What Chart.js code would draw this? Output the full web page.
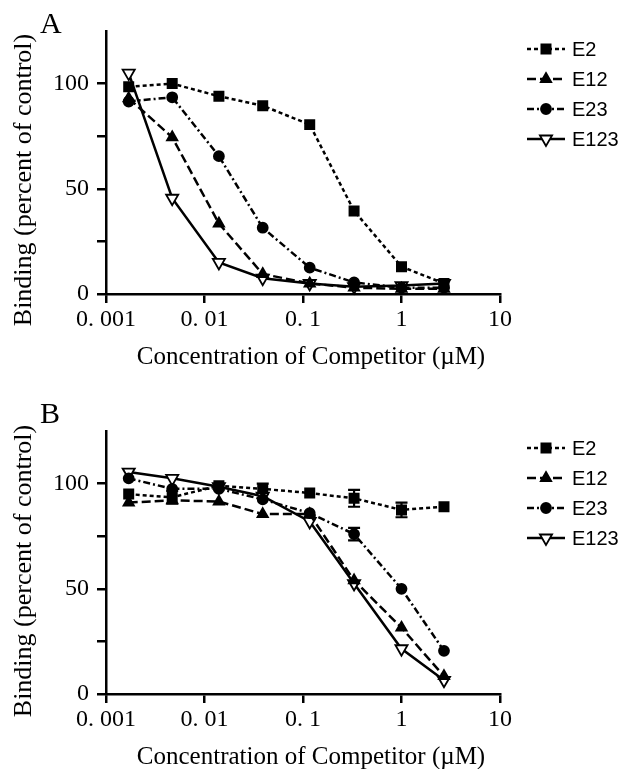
<!DOCTYPE html>
<html>
<head>
<meta charset="utf-8">
<script src="https://cdn.jsdelivr.net/npm/chart.js@4"></script>
<style>
  body { margin: 0; background: #fff; }
  canvas { position: absolute; left: 0; }
</style>
</head>
<body>
<canvas id="chart-a" width="624" height="380" style="top:0"></canvas>
<canvas id="chart-b" width="624" height="389" style="top:380px"></canvas>
<script>
const conc = [0.0017, 0.0047, 0.014, 0.039, 0.117, 0.33, 1, 2.7];
const seriesNames = ['E2', 'E12', 'E23', 'E123'];
const xTicks = [0.001, 0.01, 0.1, 1, 10];
const xTickLabels = ['0. 001', '0. 01', '0. 1', '1', '10'];
const yTicks = [0, 25, 50, 75, 100];
const yTickLabels = ['0', '', '50', '', '100'];
const xTitle = 'Concentration of Competitor (\u00b5M)';
const yTitle = 'Binding (percent of control)';

// panel A
const aE2 = [98.5, 100, 94, 89.5, 80.5, 39.5, 13, 5];
const aE12 = [93, 74.5, 33.5, 9.5, 5, 3, 2.5, 2.5];
const aE23 = [91.5, 93.5, 65.5, 31.5, 12.5, 5.5, 3, 3];
const aE123 = [105, 45.5, 15, 7.5, 5, 3.5, 4, 5];

// panel B
const bE2 = [95, 93.5, 99, 97.5, 95.5, 93, 87.5, 89];
const bE12 = [91, 92, 91.5, 85.5, 85.5, 54, 31.5, 8.5];
const bE23 = [102.5, 97.5, 97.5, 92.5, 86, 76, 50, 20.5];
const bE123 = [105.5, 102.5, 98.5, 94, 82, 52.5, 21.5, 6.5];
const bE2Err = [0, 3, 0, 2.5, 0, 4, 3.5, 0];
const bE23Err = [0, 0, 0, 0, 0, 3, 0, 0];

const styles = [
  { dash: [4, 3], point: 'rect', radius: 6.5, rot: 0, fill: '#000' },
  { dash: [9, 4], point: 'triangle', radius: 6, rot: 0, fill: '#000' },
  { dash: [7, 3, 2, 3], point: 'circle', radius: 5, rot: 0, fill: '#000' },
  { dash: [], point: 'triangle', radius: 7, rot: 180, fill: '#fff' }
];

const serif = 'Liberation Serif';

function makeDatasets(values, errs) {
  return values.map((vals, i) => ({
    label: seriesNames[i],
    data: conc.map((c, j) => ({ x: c, y: vals[j] })),
    err: errs[i],
    borderColor: '#000',
    borderWidth: 2.5,
    borderDash: styles[i].dash,
    pointStyle: styles[i].point,
    pointRadius: styles[i].radius,
    pointRotation: styles[i].rot,
    pointBackgroundColor: styles[i].fill,
    pointBorderColor: '#000',
    pointBorderWidth: 1.8,
    tension: 0,
    clip: false
  }));
}

const panelPlugin = {
  id: 'panel',
  beforeDatasetsDraw(chart) {
    const ctx = chart.ctx;
    const xs = chart.scales.x, ys = chart.scales.y;
    ctx.save();
    ctx.strokeStyle = '#000';
    ctx.lineWidth = 2.2;
    chart.data.datasets.forEach(ds => {
      if (!ds.err) return;
      ds.data.forEach((p, j) => {
        const e = ds.err[j];
        if (!e) return;
        const px = xs.getPixelForValue(p.x);
        const y1 = ys.getPixelForValue(p.y - e), y2 = ys.getPixelForValue(p.y + e);
        ctx.beginPath();
        ctx.moveTo(px, y1); ctx.lineTo(px, y2);
        ctx.moveTo(px - 6, y1); ctx.lineTo(px + 6, y1);
        ctx.moveTo(px - 6, y2); ctx.lineTo(px + 6, y2);
        ctx.stroke();
      });
    });
    ctx.restore();
  },
  afterDraw(chart) {
    const opts = chart.options.plugins.panel;
    const ctx = chart.ctx;
    ctx.save();
    ctx.fillStyle = '#000';
    ctx.textBaseline = 'middle';
    ctx.font = '30px "' + serif + '"';
    ctx.fillText(opts.letter, 40, opts.letterY);

    // axis titles
    ctx.font = '25px "' + serif + '"';
    ctx.textAlign = 'center';
    ctx.fillText(xTitle, 311, opts.xTitleY);
    ctx.save();
    ctx.translate(24, opts.yTitleY);
    ctx.rotate(-Math.PI / 2);
    ctx.font = '26px "' + serif + '"';
    ctx.fillText(yTitle, 0, 0);
    ctx.restore();

    // legend
    ctx.textAlign = 'left';
    ctx.font = '20px "Liberation Sans"';
    chart.data.datasets.forEach((ds, i) => {
      const y = opts.legendY + i * 30;
      ctx.strokeStyle = '#000';
      ctx.lineWidth = 2.5;
      ctx.setLineDash(ds.borderDash);
      ctx.beginPath();
      ctx.moveTo(527, y); ctx.lineTo(565, y);
      ctx.stroke();
      ctx.setLineDash([]);
      ctx.fillStyle = ds.pointBackgroundColor;
      ctx.lineWidth = ds.pointBorderWidth;
      Chart.helpers.drawPoint(ctx, {
        pointStyle: ds.pointStyle, radius: ds.pointRadius, rotation: ds.pointRotation, borderWidth: ds.pointBorderWidth
      }, 546, y);
      ctx.fillStyle = '#000';
      ctx.fillText(ds.label, 572, y + 1);
    });
    ctx.restore();
  }
};

function makeChart(id, values, errs, opts) {
  return new Chart(document.getElementById(id), {
    type: 'line',
    data: { datasets: makeDatasets(values, errs) },
    plugins: [panelPlugin],
    options: {
      responsive: false,
      animation: false,
      layout: { padding: { left: 0, right: 124, top: opts.top, bottom: 0 } },
      plugins: {
        legend: { display: false },
        tooltip: { enabled: false },
        panel: opts
      },
      scales: {
        x: {
          type: 'logarithmic',
          min: 0.001,
          max: 10,
          afterBuildTicks(scale) { scale.ticks = xTicks.map(v => ({ value: v })); },
          afterFit(scale) { scale.height = opts.xHeight; },
          ticks: {
            autoSkip: false, maxRotation: 0, padding: 2, color: '#000',
            font: { family: serif, size: 24 },
            callback: (v, i) => xTickLabels[i]
          },
          grid: { display: true, drawOnChartArea: false, drawTicks: true, tickLength: 9, color: '#000', lineWidth: 2.5 },
          border: { display: true, color: '#000', width: 2.5 }
        },
        y: {
          type: 'linear',
          min: 0,
          max: 125,
          afterBuildTicks(scale) { scale.ticks = yTicks.map(v => ({ value: v })); },
          afterFit(scale) { scale.width = 106; },
          ticks: {
            padding: 8, color: '#000',
            font: { family: serif, size: 24 },
            callback: (v, i) => yTickLabels[i]
          },
          grid: { display: true, drawOnChartArea: false, drawTicks: true, tickLength: 9, color: '#000', lineWidth: 2.5 },
          border: { display: true, color: '#000', width: 2.5 }
        }
      }
    }
  });
}

makeChart('chart-a', [aE2, aE12, aE23, aE123], [null, null, null, null],
  { letter: 'A', letterY: 25, legendY: 49, top: 31, xHeight: 86, xTitleY: 357, yTitleY: 180 });
makeChart('chart-b', [bE2, bE12, bE23, bE123], [bE2Err, null, bE23Err, null],
  { letter: 'B', letterY: 35, legendY: 68, top: 51, xHeight: 75, xTitleY: 377, yTitleY: 191 });
</script>
</body>
</html>
